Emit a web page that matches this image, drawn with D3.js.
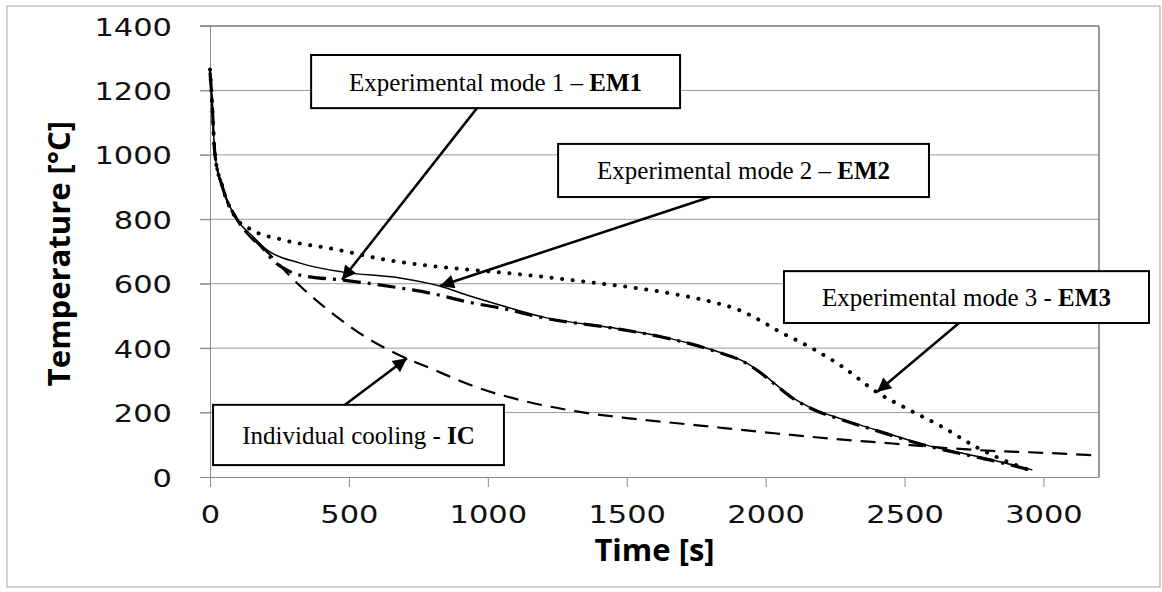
<!DOCTYPE html>
<html>
<head>
<meta charset="utf-8">
<script src="https://cdn.jsdelivr.net/npm/d3@7"></script>
<style>
  body { margin: 0; background: #fff; }
  svg { display: block; }
</style>
</head>
<body>
<div id="chart"></div>
<script>
// time [s], temperature [°C]
const emOne = [[0,1260],[5,1200],[18,1000],[45,900],[97,800],[150,750],[205,705],[324,664],[478,636],[683,618],[827,593],[924,565],[1043,534],[1212,494],[1450,463],[1630,435],[1809,394],[1931,354],[1990,320],[2040,285],[2100,245],[2158,217],[2280,178],[2399,146],[2579,99],[2700,75],[2817,53],[2960,22]];
const emTwo = [[0,1255],[5,1200],[18,1000],[45,900],[97,800],[150,745],[180,720],[230,670],[263,649],[310,630],[360,621],[468,612],[683,587],[791,571],[946,540],[1043,525],[1212,492],[1450,462],[1630,434],[1809,393],[1931,353],[1990,318],[2040,283],[2100,243],[2158,215],[2280,176],[2399,144],[2579,97],[2700,73],[2817,51],[2960,20]];
const emThree = [[0,1265],[5,1200],[18,1000],[45,900],[97,800],[144,770],[263,736],[443,708],[636,674],[900,646],[1032,636],[1392,602],[1630,574],[1809,543],[1900,520],[1978,487],[2040,456],[2158,404],[2277,342],[2399,264],[2518,208],[2637,155],[2758,93],[2850,55],[2938,25]];
const individual = [[0,1265],[5,1200],[18,1000],[45,900],[97,800],[150,740],[205,699],[313,602],[457,497],[550,440],[658,388],[800,335],[971,275],[1150,232],[1331,202],[1500,183],[1691,166],[1850,152],[2040,135],[2250,118],[2457,104],[2650,90],[2817,81],[3000,75],[3200,67]];

const xTicks = [0, 500, 1000, 1500, 2000, 2500, 3000];
const yTicks = [0, 200, 400, 600, 800, 1000, 1200, 1400];

// callouts: label, bold part, box corners and arrow in data units
const noteLabels = ["Experimental mode 1 \u2013 ", "Experimental mode 2 \u2013 ", "Experimental mode 3 - ", "Individual cooling - "];
const noteBold = ["EM1", "EM2", "EM3", "IC"];
const noteBoxes = [[364,1310,1692,1145],[1253,1034,2588,869],[2066,639,3380,478],[11,224,1058,37]];
const noteArrows = [[961,1145,475,612],[1800,869,828,593],[2696,478,2401,264],[486,224,709,369]];

const W = 1162, H = 592;
const svg = d3.select("#chart").append("svg")
    .attr("width", W)
    .attr("height", H);

svg.append("rect")
    .attr("x", 7).attr("y", 6)
    .attr("width", 1153).attr("height", 581)
    .attr("fill", "#fff")
    .attr("stroke", "#a6a6a6");

const x = d3.scaleLinear().domain([0, 3200]).range([210, 1099]);
const y = d3.scaleLinear().domain([0, 1400]).range([477, 26]);

// grid
svg.append("g").selectAll("line")
    .data(yTicks.slice(1))
    .enter().append("line")
    .attr("x1", 200).attr("x2", x(3200))
    .attr("y1", d => y(d)).attr("y2", d => y(d))
    .attr("stroke", d => d === 1400 ? "#777" : "#9a9a9a")
    .attr("stroke-width", d => d === 1400 ? 1.5 : 1);

svg.append("line")
    .attr("x1", x(3200)).attr("x2", x(3200))
    .attr("y1", y(1400)).attr("y2", y(0))
    .attr("stroke", "#777").attr("stroke-width", 1.5);

const tickFont = "'DejaVu Sans', Verdana, sans-serif";

const yAxis = svg.append("g")
    .attr("transform", "translate(" + x(0) + ",0)")
    .call(d3.axisLeft(y).tickValues(yTicks).tickFormat(d3.format("d"))
        .tickSize(10).tickPadding(28).tickSizeOuter(0));

const xAxis = svg.append("g")
    .attr("transform", "translate(0," + y(0) + ")")
    .call(d3.axisBottom(x).tickValues(xTicks).tickFormat(d3.format("d"))
        .tickSize(10).tickPadding(18).tickSizeOuter(0));

[yAxis, xAxis].forEach(g => {
    g.selectAll(".domain").attr("stroke", "#8c8c8c");
    g.selectAll(".tick line").attr("stroke", "#8c8c8c");
    g.selectAll(".tick text")
        .attr("fill", "#111")
        .style("font-family", tickFont)
        .style("font-size", "25px")
        .attr("textLength", d => String(d).length * 19.4)
        .attr("lengthAdjust", "spacingAndGlyphs");
});
yAxis.selectAll(".tick text").attr("dy", "0.36em");

// axis titles
svg.append("text")
    .attr("transform", "translate(70," + ((y(0) + y(1400)) / 2 + 2) + ") rotate(-90)")
    .attr("text-anchor", "middle")
    .style("font-family", "'Open Sans', sans-serif")
    .style("font-weight", "bold")
    .style("font-size", "31px")
    .text("Temperature [°C]");

svg.append("text")
    .attr("x", (x(0) + x(3200)) / 2)
    .attr("y", 561)
    .attr("text-anchor", "middle")
    .style("font-family", "'Open Sans', sans-serif")
    .style("font-weight", "bold")
    .style("font-size", "31px")
    .text("Time [s]");

// curves
const line = d3.line()
    .x(d => x(d[0]))
    .y(d => y(d[1]))
    .curve(d3.curveMonotoneX);

const series = [
    { data: individual, width: 2.2, dash: "15 9", cap: "butt" },
    { data: emThree, width: 4, dash: "0.1 10.5", cap: "round" },
    { data: emTwo, width: 3.2, dash: "18 7 3 7", cap: "butt" },
    { data: emOne, width: 1.5, dash: null, cap: "butt" }
];

svg.append("g").selectAll("path")
    .data(series)
    .enter().append("path")
    .attr("d", d => line(d.data))
    .attr("fill", "none")
    .attr("stroke", "#000")
    .attr("stroke-width", d => d.width)
    .attr("stroke-dasharray", d => d.dash)
    .attr("stroke-linecap", d => d.cap);

// callouts
svg.append("defs").append("marker")
    .attr("id", "head")
    .attr("viewBox", "0 0 10 10")
    .attr("refX", 10).attr("refY", 5)
    .attr("markerWidth", 18).attr("markerHeight", 14)
    .attr("markerUnits", "userSpaceOnUse")
    .attr("orient", "auto")
    .append("path")
    .attr("d", "M0,0L10,5L0,10z")
    .attr("fill", "#000");

const notes = svg.append("g").selectAll("g")
    .data(noteLabels.map((t, i) => ({ text: t, bold: noteBold[i], box: noteBoxes[i], arrow: noteArrows[i] })))
    .enter().append("g");

notes.append("rect")
    .attr("x", d => x(d.box[0]))
    .attr("y", d => y(d.box[1]))
    .attr("width", d => x(d.box[2]) - x(d.box[0]))
    .attr("height", d => y(d.box[3]) - y(d.box[1]))
    .attr("fill", "#fff")
    .attr("stroke", "#000")
    .attr("stroke-width", 2);

const label = notes.append("text")
    .attr("x", d => (x(d.box[0]) + x(d.box[2])) / 2)
    .attr("y", d => (y(d.box[1]) + y(d.box[3])) / 2 + 9)
    .attr("text-anchor", "middle")
    .style("font-family", "'Liberation Serif', 'Times New Roman', serif")
    .style("font-size", "25px")
    .attr("fill", "#000");
label.append("tspan").text(d => d.text);
label.append("tspan").style("font-weight", "bold").text(d => d.bold);

notes.append("line")
    .attr("x1", d => x(d.arrow[0]))
    .attr("y1", d => y(d.arrow[1]))
    .attr("x2", d => x(d.arrow[2]))
    .attr("y2", d => y(d.arrow[3]))
    .attr("stroke", "#000")
    .attr("stroke-width", 2.5)
    .attr("marker-end", "url(#head)");
</script>
</body>
</html>
